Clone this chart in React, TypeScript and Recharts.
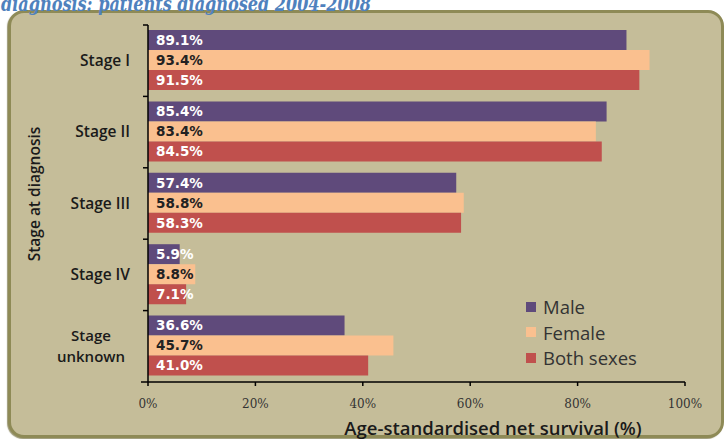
import React from 'react';
import { BarChart, Bar, XAxis, YAxis, Legend, LabelList, Label } from 'recharts';

const stages = ['Stage I', 'Stage II', 'Stage III', 'Stage IV', 'Stage unknown'];
const male = [89.1, 85.4, 57.4, 5.9, 36.6];
const female = [93.4, 83.4, 58.8, 8.8, 45.7];
const both = [91.5, 84.5, 58.3, 7.1, 41.0];
const seriesNames = ['Male', 'Female', 'Both sexes'];
const xTicks = [0, 20, 40, 60, 80, 100];
const titleText = 'diagnosis: patients diagnosed 2004-2008';
const xTitle = 'Age-standardised net survival (%)';
const yTitle = 'Stage at diagnosis';

const data = stages.map((s, i) => ({ stage: s, male: male[i], female: female[i], both: both[i] }));

const W = 725;
const H = 439;
const X_H = 50;
const M = { top: 25, right: 40, bottom: 57 - X_H, left: 0 };
const Y_W = 148;
const PLOT_H = H - M.top - M.bottom - X_H;
const BAND = PLOT_H / stages.length;

const COLORS = { male: '#5F4A7B', female: '#FAC08F', both: '#C0504D' };

const YTick = (props: any) => {
  const { x, y, payload, index } = props;
  const words: string[] = String(payload.value).split(' ');
  const twoLine = payload.value === 'Stage unknown';
  return (
    <g>
      <line x1={x - 5} x2={x} y1={y - BAND / 2} y2={y - BAND / 2} stroke="#000" strokeWidth={1.5} />
      {index === stages.length - 1 && (
        <line x1={x - 7} x2={x} y1={y + BAND / 2} y2={y + BAND / 2} stroke="#000" strokeWidth={1.5} />
      )}
      {twoLine ? (
        <g fontFamily="'Open Sans', sans-serif" fontWeight={600} fontSize={15} fill="#1a1a1a">
          <text x={x - 57} y={y - 5} textAnchor="middle">{words[0]}</text>
          <text x={x - 57} y={y + 16} textAnchor="middle">{words[1]}</text>
        </g>
      ) : (
        <text x={x - 18} y={y} dy={5} textAnchor="end" fontFamily="'Open Sans', sans-serif" fontWeight={600} fontSize={15.5} fill="#1a1a1a">
          {payload.value}
        </text>
      )}
    </g>
  );
};

const renderLegend = (props: any) => {
  const items = [...(props.payload || [])].sort(
    (a: any, b: any) => seriesNames.indexOf(a.value) - seriesNames.indexOf(b.value)
  );
  return (
    <div>
      {items.map((p: any) => (
        <div key={p.value} style={{ display: 'flex', alignItems: 'center', height: 25.5, fontFamily: "'Open Sans', sans-serif", fontSize: 18.5, color: '#333' }}>
          <span style={{ display: 'inline-block', width: 10, height: 10, background: p.color, marginRight: 7 }} />
          <span>{p.value}</span>
        </div>
      ))}
    </div>
  );
};

const fmt = (v: any) => `${Number(v).toFixed(1)}%`;

export default function App() {
  return (
    <div style={{ position: 'absolute', left: 0, top: 0, width: W, height: H, overflow: 'hidden', background: '#fff' }}>
      <div
        style={{
          position: 'absolute',
          left: 8,
          top: 10,
          width: 716,
          height: 428,
          boxSizing: 'border-box',
          border: '3px solid #8E8A56',
          borderRadius: 16,
          background: '#C5BD99',
          boxShadow: '-1px 1px 1px #9A9673',
        }}
      />
      <svg width={W} height={30} style={{ position: 'absolute', left: 0, top: 0 }}>
        <text x={1} y={11} fontFamily="'DejaVu Serif', serif" fontStyle="italic" fontWeight={700} fontSize={21} fill="#4F81BD" textLength={370} lengthAdjust="spacingAndGlyphs">
          {titleText}
        </text>
      </svg>
      <div style={{ position: 'absolute', left: 0, top: 0 }}>
        <BarChart width={W} height={H} data={data} layout="vertical" margin={M} barCategoryGap={5} barGap={0}>
          <XAxis
            type="number"
            domain={[0, 100]}
            ticks={xTicks}
            height={X_H}
            tickFormatter={(v: any) => `${v}%`}
            tickSize={4}
            tickMargin={13}
            stroke="#000"
            axisLine={{ stroke: '#000', strokeWidth: 1.5 }}
            tickLine={{ stroke: '#000', strokeWidth: 1.5 }}
            tick={{ fill: '#333', fontFamily: "'DejaVu Serif', serif", fontSize: 12 }}
            interval={0}
          >
            <Label
              content={() => (
                <text x={493} y={435} textAnchor="middle" fontFamily="'Open Sans', sans-serif" fontWeight={600} fontSize={18.5} fill="#1a1a1a">
                  {xTitle}
                </text>
              )}
            />
          </XAxis>
          <YAxis
            type="category"
            dataKey="stage"
            width={Y_W}
            tickSize={0}
            tickMargin={0}
            tickLine={false}
            axisLine={{ stroke: '#000', strokeWidth: 1.5 }}
            tick={<YTick />}
            interval={0}
          >
            <Label
              content={() => (
                <text x={40} y={194} transform="rotate(-90 40 194)" textAnchor="middle" fontFamily="'Open Sans', sans-serif" fontWeight={600} fontSize={15.5} fill="#1a1a1a">
                  {yTitle}
                </text>
              )}
            />
          </YAxis>
          <Legend
            layout="vertical"
            align="center"
            verticalAlign="middle"
            content={renderLegend}
            wrapperStyle={{ left: 526, top: 294, width: 150, height: 80 }}
          />
          <Bar dataKey="male" name="Male" fill={COLORS.male} isAnimationActive={false}>
            <LabelList dataKey="male" position="insideLeft" offset={8} formatter={fmt} fill="#fff" fontFamily="'DejaVu Sans', sans-serif" fontWeight={700} fontSize={13.5} />
          </Bar>
          <Bar dataKey="female" name="Female" fill={COLORS.female} isAnimationActive={false}>
            <LabelList dataKey="female" position="insideLeft" offset={8} formatter={fmt} fill="#222" fontFamily="'DejaVu Sans', sans-serif" fontWeight={700} fontSize={13.5} />
          </Bar>
          <Bar dataKey="both" name="Both sexes" fill={COLORS.both} isAnimationActive={false}>
            <LabelList dataKey="both" position="insideLeft" offset={8} formatter={fmt} fill="#fff" fontFamily="'DejaVu Sans', sans-serif" fontWeight={700} fontSize={13.5} />
          </Bar>
        </BarChart>
      </div>
    </div>
  );
}
